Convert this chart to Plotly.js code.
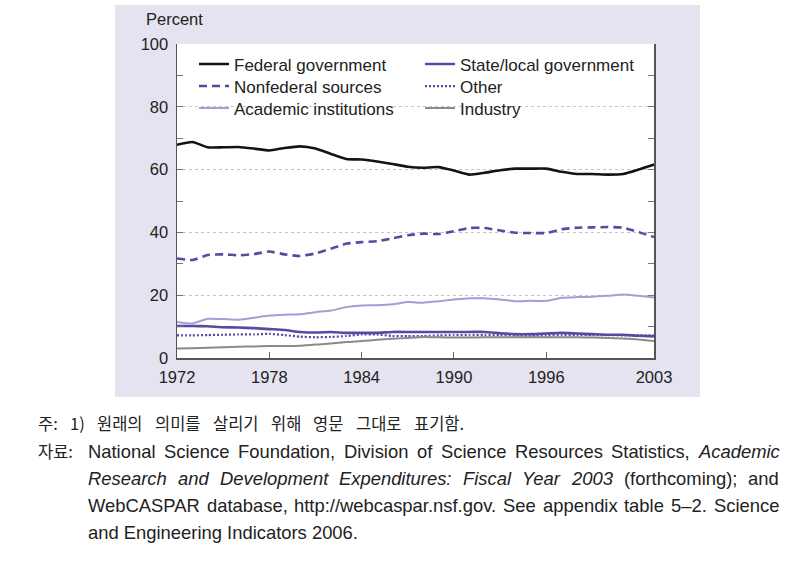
<!DOCTYPE html>
<html>
<head>
<meta charset="utf-8">
<script src="https://cdn.plot.ly/plotly-3.0.1.min.js"></script>
<style>html,body{margin:0;padding:0;background:#fff;}#chart{width:797px;height:569px;}</style>
</head>
<body>
<div id="chart"></div>
<script>
// ---- data (percent of academic R&D expenditures by source) ----
const years = [1972,1973,1974,1975,1976,1977,1978,1979,1980,1981,1982,1983,1984,1985,1986,1987,
               1988,1989,1990,1991,1992,1993,1994,1995,1996,1997,1998,1999,2000,2001,2002,2003];
const federal    = [67.9,68.8,67.1,67.1,67.2,66.7,66.1,66.9,67.4,66.7,65.0,63.4,63.2,62.6,61.8,60.9,
                    60.6,60.8,59.7,58.4,59.0,59.8,60.3,60.3,60.3,59.3,58.6,58.6,58.4,58.6,60.0,61.6];
const nonfederal = [31.7,31.2,32.8,33.0,32.7,33.1,33.9,33.0,32.5,33.3,34.8,36.4,36.9,37.2,38.1,39.1,
                    39.6,39.5,40.4,41.4,41.4,40.6,39.9,39.8,39.8,41.0,41.5,41.6,41.7,41.5,40.1,38.5];
const academic   = [11.5,11.0,12.5,12.4,12.2,12.8,13.5,13.8,13.9,14.6,15.1,16.2,16.7,16.8,17.1,17.8,
                    17.6,18.1,18.6,19.0,19.0,18.6,18.1,18.2,18.2,19.2,19.4,19.5,19.8,20.2,19.8,19.3];
const stateLocal = [10.2,10.2,10.1,9.8,9.7,9.5,9.2,8.9,8.3,8.1,8.3,8.0,8.0,8.0,8.3,8.3,
                    8.3,8.3,8.3,8.3,8.3,7.9,7.6,7.6,7.8,8.0,7.8,7.6,7.4,7.4,7.1,6.9];
const other      = [7.2,7.2,7.3,7.4,7.5,7.5,7.7,7.3,6.8,6.6,6.7,7.0,7.5,7.5,7.0,7.0,
                    7.0,7.2,7.3,7.3,7.3,7.3,7.2,7.0,7.2,7.3,7.3,7.3,7.3,7.2,7.2,7.2];
const industry   = [3.0,3.1,3.3,3.4,3.6,3.7,3.8,3.8,3.9,4.3,4.6,5.1,5.4,5.8,6.1,6.4,
                    6.7,6.6,6.5,6.5,6.6,6.6,6.6,6.6,6.6,6.6,6.6,6.5,6.4,6.2,5.9,5.4];

const seriesNames = ["Federal government","State/local government","Nonfederal sources","Other","Academic institutions","Industry"];
const xTicks = [1972,1978,1984,1990,1996,2003];
const yTicks = [0,20,40,60,80,100];

const noteLine = "주: 1) 원래의 의미를 살리기 위해 영문 그대로 표기함.";
const sourceLabel = "자료:";
// each line: list of [word, italic]
const sourceLines = [
  [["National",0],["Science",0],["Foundation,",0],["Division",0],["of",0],["Science",0],["Resources",0],["Statistics,",0],["Academic",1]],
  [["Research",1],["and",1],["Development",1],["Expenditures:",1],["Fiscal",1],["Year",1],["2003",1],["(forthcoming);",0],["and",0]],
  [["WebCASPAR",0],["database,",0],["http://webcaspar.nsf.gov.",0],["See",0],["appendix",0],["table",0],["5–2.",0],["Science",0]]
];
const lastSourceLine = "and Engineering Indicators 2006.";

// ---- geometry helpers (pixel -> paper) ----
const W = 797, H = 569;
const PL = 177, PR = 654, PT = 44, PB = 358;
const px = x => (x - PL) / (PR - PL);
const py = y => (PB - y) / (PB - PT);

const purple = "#5a48a3";
const FONT = "Liberation Sans, Arial, sans-serif";
const KFONT = "Noto Sans CJK KR, Liberation Sans, sans-serif";
const TXT = "#222";

const legendPos = [[194, 64], [420, 64], [194, 86], [420, 86], [194, 108], [420, 108]];
const legendIds = ["legend", "legend2", "legend3", "legend4", "legend5", "legend6"];

const traces = [
  {name: seriesNames[0], y: federal,    line: {color: "#141414", width: 2.6}},
  {name: seriesNames[1], y: stateLocal, line: {color: purple, width: 2.6}},
  {name: seriesNames[2], y: nonfederal, line: {color: purple, width: 2.6, dash: "8px,5px"}},
  {name: seriesNames[3], y: other,      line: {color: purple, width: 2.2, dash: "2px,2px"}},
  {name: seriesNames[4], y: academic,   line: {color: "#a99bd6", width: 2}},
  {name: seriesNames[5], y: industry,   line: {color: "#8a8a8a", width: 2}}
].map((t, i) => Object.assign({type: "scatter", mode: "lines", hoverinfo: "skip", x: years,
        legend: legendIds[i]}, t,
        {line: Object.assign({shape: "spline", smoothing: 0.5}, t.line)}));

// ---- text measurement for justified lines ----
const cv = document.createElement("canvas").getContext("2d");
function measure(text, size, family, italic) {
  cv.font = (italic ? "italic " : "") + size + "px " + family;
  return cv.measureText(text).width;
}

const annotations = [
  {text: "Percent", x: px(144), y: py(19), xanchor: "left", yanchor: "middle",
   font: {size: 16.5, color: TXT, family: FONT}}
];

function justify(words, x0, x1, yPix, size, family, canvasFamily) {
  const widths = words.map(w => measure(w[0], size, canvasFamily, w[1]));
  const total = widths.reduce((a, b) => a + b, 0);
  const gap = (x1 - x0 - total) / (words.length - 1);
  let x = x0;
  words.forEach((w, k) => {
    annotations.push({text: w[1] ? "<i>" + w[0] + "</i>" : w[0], x: px(x - 1), y: py(yPix),
      xanchor: "left", yanchor: "middle", font: {size: size, color: TXT, family: family}});
    x += widths[k] + gap;
  });
}

const KSIZE = 16.5, LSIZE = 18.4;
justify(noteLine.split(" ").map(w => [w, 0]), 37, 463, 423, KSIZE, KFONT, '"Noto Sans CJK KR"');
annotations.push({text: sourceLabel, x: px(36), y: py(451), xanchor: "left", yanchor: "middle",
   font: {size: KSIZE, color: TXT, family: KFONT}});
const lineY = [451, 478, 505, 532];
sourceLines.forEach((ws, i) => justify(ws, 87, 778, lineY[i], LSIZE, FONT, '"Liberation Sans"'));
annotations.push({text: lastSourceLine, x: px(86), y: py(lineY[3]), xanchor: "left", yanchor: "middle",
   font: {size: LSIZE, color: TXT, family: FONT}});
annotations.forEach(a => { a.xref = "paper"; a.yref = "paper"; a.showarrow = false; });

const layout = {
  width: W, height: H,
  margin: {l: PL, r: W - PR, t: PT, b: H - PB, pad: 0},
  paper_bgcolor: "#ffffff",
  plot_bgcolor: "rgba(0,0,0,0)",
  font: {family: FONT, color: TXT, size: 16.5},
  showlegend: true,
  xaxis: {
    range: [1972, 2003], tickvals: xTicks, ticktext: xTicks.map(String),
    ticks: "inside", ticklen: 6, tickcolor: "#666", tickwidth: 1,
    showline: true, linecolor: "#555", linewidth: 1.5,
    showgrid: false, zeroline: false, fixedrange: true,
    tickfont: {size: 16.5, color: TXT, family: FONT}, ticklabelstandoff: 4
  },
  yaxis: {
    range: [0, 100], tickvals: yTicks, ticktext: yTicks.map(String),
    ticks: "inside", ticklen: 6, tickcolor: "#777", tickwidth: 1,
    minor: {dtick: 10, ticks: "inside", ticklen: 6, tickcolor: "#777", showgrid: false},
    showline: true, linecolor: "#555", linewidth: 1.5, mirror: "allticks",
    showgrid: true, gridcolor: "#c4c4c4", gridwidth: 1, griddash: "dot",
    zeroline: false, fixedrange: true,
    tickfont: {size: 16.5, color: TXT, family: FONT}, ticklabelstandoff: 4
  },
  shapes: [
    {type: "rect", xref: "paper", yref: "paper", layer: "below",
     x0: px(115), x1: px(700), y0: py(397), y1: py(5),
     fillcolor: "#e5e3f0", line: {width: 0}},
    {type: "rect", xref: "paper", yref: "paper", layer: "below",
     x0: 0, x1: 1, y0: 0, y1: 1, fillcolor: "#ffffff", line: {width: 0}}
  ],
  annotations: annotations
};
legendIds.forEach((id, i) => {
  layout[id] = {x: px(legendPos[i][0]), y: py(legendPos[i][1] - 17.5), xanchor: "left", yanchor: "top",
    bgcolor: "rgba(0,0,0,0)", font: {size: 17, color: TXT, family: FONT}};
});

Plotly.newPlot("chart", traces, layout, {displayModeBar: false, staticPlot: true});
</script>
</body>
</html>
